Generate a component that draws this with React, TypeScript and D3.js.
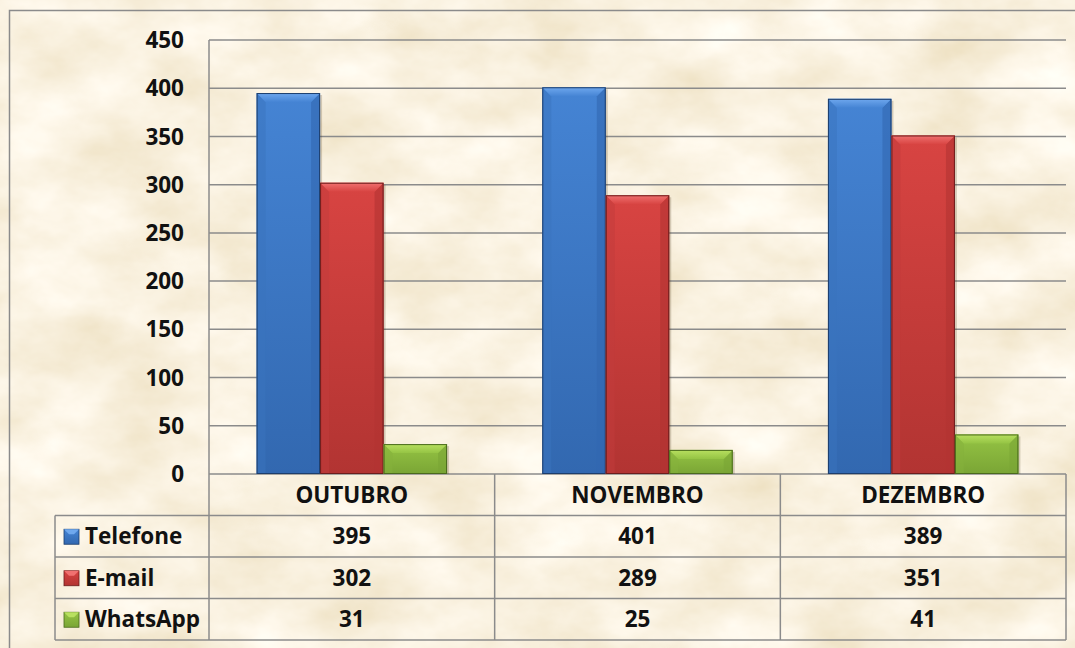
import React from 'react';
import * as d3 from 'd3';

const months = ['OUTUBRO', 'NOVEMBRO', 'DEZEMBRO'];
const seriesNames = ['Telefone', 'E-mail', 'WhatsApp'];
const telefone = [395, 401, 389];
const email = [302, 289, 351];
const whatsapp = [31, 25, 41];
const yTicks = [0, 50, 100, 150, 200, 250, 300, 350, 400, 450];

const seriesValues = [telefone, email, whatsapp];

// face / light bevel / dark edge
const palette = [
  { top: '#4584d4', bottom: '#3268b0', light: '#6fa8ee', side: '#3a73be', edge: '#1d3e6c' },
  { top: '#d84442', bottom: '#b23432', light: '#f07170', side: '#c23c3b', edge: '#6c1d1c' },
  { top: '#95c444', bottom: '#7aa535', light: '#b8e060', side: '#86b23c', edge: '#4a6a1d' },
];

const W = 1075;
const H = 648;
const font = '"Open Sans", Carlito, Calibri, sans-serif';
const fs = 22.5;
const grid = '#8b8b8b';

export default function App() {
  const plot = { left: 209, right: 1066, top: 40, bottom: 474 };
  const rowH = 41.5;
  const headerLeft = 55;

  const x0 = d3.scaleBand<string>().domain(months).range([plot.left, plot.right]).paddingInner(0);
  const x1 = d3.scaleBand<string>().domain(seriesNames).range([0, x0.bandwidth()]).paddingInner(0).paddingOuter(0.75);
  const y = d3.scaleLinear().domain([0, 450]).range([plot.bottom, plot.top]);

  const rowTop = (i: number) => plot.bottom + rowH * (i + 1);
  const tableBottom = rowTop(seriesNames.length);
  const bevel = 9;

  const bars: React.ReactNode[] = [];
  months.forEach((m, mi) => {
    seriesNames.forEach((s, si) => {
      const v = seriesValues[si][mi];
      const bx = (x0(m) || 0) + (x1(s) || 0);
      const bw = x1.bandwidth();
      const by = y(v);
      const bh = y(0) - y(v);
      const b = Math.min(bevel, bh / 2);
      const p = palette[si];
      bars.push(
        <g key={m + s}>
          <rect x={bx + 2} y={by + 2} width={bw} height={bh - 2} fill="rgba(60,40,10,0.2)" />
          <rect x={bx} y={by} width={bw} height={bh} fill={`url(#face${si})`} />
          <polygon points={`${bx},${by} ${bx + b},${by + b} ${bx + b},${by + bh} ${bx},${by + bh}`} fill={p.side} opacity={0.5} />
          <polygon points={`${bx + bw},${by} ${bx + bw - b},${by + b} ${bx + bw - b},${by + bh} ${bx + bw},${by + bh}`} fill={p.bottom} opacity={0.6} />
          <polygon points={`${bx},${by} ${bx + bw},${by} ${bx + bw - b},${by + b} ${bx + b},${by + b}`} fill={`url(#bev${si})`} />
          <rect x={bx + 0.5} y={by + 0.5} width={bw - 1} height={bh - 1} fill="none" stroke={p.edge} strokeWidth={1} />
        </g>
      );
    });
  });

  const txt = { fontFamily: font, fontWeight: 'bold' as const, fontSize: fs, fill: '#111' };

  return (
    <svg width={W} height={H} style={{ display: 'block', position: 'absolute', left: 0, top: 0 }}>
      <defs>
        <filter id="parch" x="0" y="0" width="100%" height="100%">
          <feTurbulence type="fractalNoise" baseFrequency="0.01 0.016" numOctaves={5} seed={7} />
          <feColorMatrix
            type="matrix"
            values="0.24 0 0 0 0.83  0.32 0 0 0 0.72  0.5 0 0 0 0.49  0 0 0 0 1"
          />
        </filter>
        {palette.map((p, i) => (
          <linearGradient key={'f' + i} id={`face${i}`} x1="0" y1="0" x2="0" y2="1">
            <stop offset="0" stopColor={p.top} />
            <stop offset="1" stopColor={p.bottom} />
          </linearGradient>
        ))}
        {palette.map((p, i) => (
          <linearGradient key={'b' + i} id={`bev${i}`} x1="0" y1="0" x2="0" y2="1">
            <stop offset="0" stopColor={p.light} />
            <stop offset="1" stopColor={p.top} />
          </linearGradient>
        ))}
      </defs>

      <rect x={0} y={0} width={W} height={H} fill="#f1e0ba" />
      <rect x={0} y={0} width={W} height={H} filter="url(#parch)" />

      {/* chart border */}
      <rect x={9.5} y={10.5} width={W + 20} height={H + 20} fill="none" stroke={grid} strokeWidth={1.5} />

      {/* grid lines */}
      {yTicks.map(t => (
        <line key={t} x1={plot.left} x2={plot.right} y1={y(t)} y2={y(t)} stroke={grid} strokeWidth={1.5} />
      ))}
      <line x1={plot.left} x2={plot.left} y1={plot.top} y2={tableBottom} stroke={grid} strokeWidth={1.5} />

      {/* y tick labels */}
      {yTicks.map(t => (
        <text key={'l' + t} x={184} y={y(t)} dy="0.36em" textAnchor="end" {...txt}>
          {t}
        </text>
      ))}

      {bars}

      {/* data table */}
      {seriesNames.map((s, i) => (
        <line key={'h' + s} x1={headerLeft} x2={plot.right} y1={rowTop(i)} y2={rowTop(i)} stroke={grid} strokeWidth={1.5} />
      ))}
      <line x1={headerLeft} x2={plot.right} y1={tableBottom} y2={tableBottom} stroke={grid} strokeWidth={1.5} />
      <line x1={headerLeft} x2={headerLeft} y1={rowTop(0)} y2={tableBottom} stroke={grid} strokeWidth={1.5} />
      {months.map(m => (
        <line key={'v' + m} x1={(x0(m) || 0) + x0.bandwidth()} x2={(x0(m) || 0) + x0.bandwidth()} y1={plot.bottom} y2={tableBottom} stroke={grid} strokeWidth={1.5} />
      ))}

      {months.map(m => (
        <text key={'c' + m} x={(x0(m) || 0) + x0.bandwidth() / 2} y={plot.bottom + rowH / 2} dy="0.36em" textAnchor="middle" {...txt}>
          {m}
        </text>
      ))}

      {seriesNames.map((s, si) => {
        const cy = rowTop(si) + rowH / 2;
        const p = palette[si];
        return (
          <g key={'r' + s}>
            <rect x={64} y={cy - 7} width={15} height={15} fill={`url(#face${si})`} stroke={p.edge} strokeWidth={0.8} />
            <polygon points={`${64},${cy - 7} ${79},${cy - 7} ${74},${cy - 2} ${69},${cy - 2}`} fill={p.light} />
            <text x={85} y={cy} dy="0.36em" {...txt}>
              {s}
            </text>
            {months.map((m, mi) => (
              <text key={m} x={(x0(m) || 0) + x0.bandwidth() / 2} y={cy} dy="0.36em" textAnchor="middle" {...txt}>
                {seriesValues[si][mi]}
              </text>
            ))}
          </g>
        );
      })}
    </svg>
  );
}
